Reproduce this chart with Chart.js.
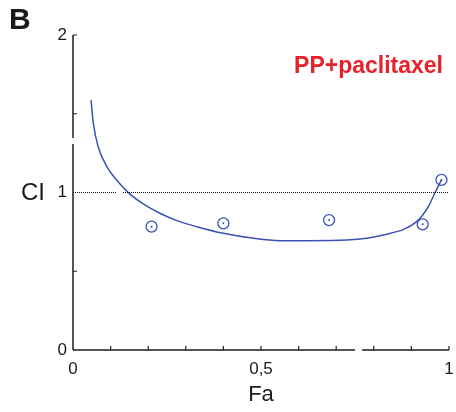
<!DOCTYPE html>
<html>
<head>
<meta charset="utf-8">
<script src="https://cdn.jsdelivr.net/npm/chart.js@4/dist/chart.umd.min.js"></script>
<style>
  html, body { margin: 0; padding: 0; background: #fff; }
  #wrap { width: 456px; height: 412px; position: relative; }
</style>
</head>
<body>
<div id="wrap"><canvas id="ciChart" width="456" height="412"></canvas></div>
<script>
// measured points (Fa, CI)
const pointFa = [0.209, 0.400, 0.681, 0.930, 0.980];
const pointCI = [0.783, 0.804, 0.825, 0.798, 1.080];

// fitted CI curve
const curveFa = [0.048, 0.054, 0.067, 0.090, 0.116, 0.147, 0.187, 0.231, 0.280, 0.329, 0.400, 0.480, 0.550, 0.630, 0.728, 0.825, 0.914, 0.945, 0.963, 0.980];
const curveCI = [1.587, 1.440, 1.290, 1.164, 1.079, 0.999, 0.927, 0.868, 0.818, 0.783, 0.741, 0.709, 0.694, 0.694, 0.698, 0.730, 0.815, 0.910, 1.000, 1.080];

// CI = 1 reference line, with the small break near the axis
const refFa = [0, 0.117, null, 0.133, 1];
const refCI = [1, 1, null, 1, 1];

const xTicks = [0, 0.5, 1];
const xTickLabels = ['0', '0,5', '1'];
const yTicks = [0, 1, 2];
const yTickLabels = ['0', '1', '2'];

const blue = '#3b52b4';
const axisColor = '#1e1e1e';

const toXY = (xs, ys) => xs.map((x, i) => (x === null ? { x: null, y: null } : { x, y: ys[i] }));

// axis lines with breaks, inward ticks and the extra labels
const axesPlugin = {
    id: 'axesPlugin',
    afterDatasetsDraw(chart) {
        const { ctx, scales: { x, y } } = chart;
        const x0 = x.getPixelForValue(0), x1 = x.getPixelForValue(1);
        const y0 = y.getPixelForValue(0), y2 = y.getPixelForValue(2);
        ctx.save();
        ctx.strokeStyle = axisColor;
        ctx.lineWidth = 1.5;
        ctx.beginPath();
        // y axis with a break
        ctx.moveTo(x0, y0);
        ctx.lineTo(x0, y.getPixelForValue(1.308));
        ctx.moveTo(x0, y.getPixelForValue(1.346));
        ctx.lineTo(x0, y2);
        // x axis with a break
        ctx.moveTo(x0, y0);
        ctx.lineTo(x.getPixelForValue(0.750), y0);
        ctx.moveTo(x.getPixelForValue(0.769), y0);
        ctx.lineTo(x1, y0);
        ctx.stroke();
        ctx.lineWidth = 1.2;
        ctx.beginPath();
        for (let k = 1; k <= 10; k++) {
            const px = x.getPixelForValue(k / 10);
            ctx.moveTo(px, y0);
            ctx.lineTo(px, y0 - 4);
        }
        [0.5, 1.5, 2].forEach(v => {
            const py = y.getPixelForValue(v);
            ctx.moveTo(x0, py);
            ctx.lineTo(x0 + 4, py);
        });
        ctx.stroke();

        ctx.fillStyle = '#1a1a1a';
        ctx.textBaseline = 'middle';
        ctx.textAlign = 'left';
        ctx.font = 'bold 30px "Liberation Sans", Arial, sans-serif';
        ctx.fillText('B', 9, 21);
        ctx.font = '24px "Liberation Sans", Arial, sans-serif';
        ctx.fillText('CI', 21, y.getPixelForValue(1) + 1);

        ctx.fillStyle = '#e8202a';
        ctx.textBaseline = 'alphabetic';
        ctx.textAlign = 'right';
        ctx.font = 'bold 23px "Liberation Sans", Arial, sans-serif';
        ctx.fillText('PP+paclitaxel', 443, 73);
        ctx.restore();
    }
};

new Chart(document.getElementById('ciChart'), {
    type: 'scatter',
    data: {
        datasets: [
            {
                label: 'CI = 1',
                type: 'line',
                data: toXY(refFa, refCI),
                borderColor: '#111',
                borderWidth: 1,
                borderDash: [1, 1],
                pointRadius: 0,
                spanGaps: false,
                clip: false
            },
            {
                label: 'fit',
                type: 'line',
                data: toXY(curveFa, curveCI),
                borderColor: blue,
                borderWidth: 1.5,
                pointRadius: 0,
                cubicInterpolationMode: 'monotone',
                clip: false
            },
            {
                label: 'points',
                data: toXY(pointFa, pointCI),
                borderColor: blue,
                backgroundColor: 'rgba(0,0,0,0)',
                borderWidth: 1.3,
                pointRadius: 5.5,
                clip: false
            },
            {
                label: 'centres',
                data: toXY(pointFa, pointCI),
                borderColor: blue,
                backgroundColor: blue,
                borderWidth: 0,
                pointRadius: 1,
                clip: false
            }
        ]
    },
    options: {
        responsive: false,
        animation: false,
        layout: { padding: { left: 0, right: 7, top: 35, bottom: 0 } },
        plugins: { legend: { display: false }, tooltip: { enabled: false } },
        scales: {
            x: {
                type: 'linear',
                min: 0,
                max: 1,
                afterFit: s => { s.height = 62; s.paddingLeft = 0; s.paddingRight = 0; },
                afterBuildTicks: s => { s.ticks = xTicks.map(v => ({ value: v })); },
                grid: { display: false, drawTicks: false },
                border: { display: false },
                ticks: {
                    padding: 9,
                    color: '#1a1a1a',
                    font: { family: '"Liberation Sans", Arial, sans-serif', size: 17 },
                    maxRotation: 0,
                    callback: v => xTickLabels[xTicks.indexOf(v)]
                },
                title: {
                    display: true,
                    text: 'Fa',
                    color: '#1a1a1a',
                    font: { family: '"Liberation Sans", Arial, sans-serif', size: 22 },
                    padding: { top: 0, bottom: 4 }
                }
            },
            y: {
                type: 'linear',
                min: 0,
                max: 2,
                afterFit: s => { s.width = 73; s.paddingTop = 0; s.paddingBottom = 0; },
                afterBuildTicks: s => { s.ticks = yTicks.map(v => ({ value: v })); },
                grid: { display: false, drawTicks: false },
                border: { display: false },
                ticks: {
                    padding: 6,
                    color: '#1a1a1a',
                    font: { family: '"Liberation Sans", Arial, sans-serif', size: 17 },
                    callback: v => yTickLabels[yTicks.indexOf(v)]
                }
            }
        }
    },
    plugins: [axesPlugin]
});
</script>
</body>
</html>
